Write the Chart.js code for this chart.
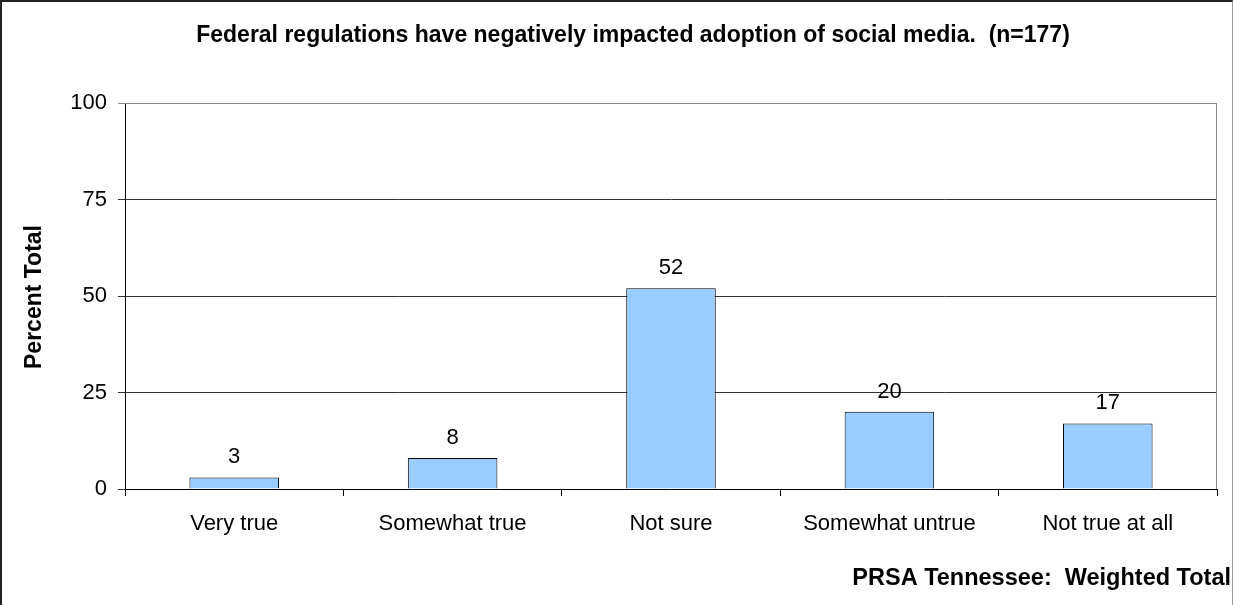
<!DOCTYPE html>
<html>
<head>
<meta charset="utf-8">
<script src="https://cdn.jsdelivr.net/npm/chart.js@4/dist/chart.umd.min.js"></script>
<style>
  html, body { margin: 0; padding: 0; background: #fff; }
  #wrap {
    position: relative; width: 1233px; height: 605px; box-sizing: border-box;
    border-left: 2px solid #222; border-top: 2px solid #222; border-right: 1px solid #999;
  }
  canvas { position: absolute; left: -2px; top: -2px; }
</style>
</head>
<body>
<div id="wrap"><canvas id="c" width="1233" height="605"></canvas></div>
<script>
const categories = ['Very true', 'Somewhat true', 'Not sure', 'Somewhat untrue', 'Not true at all'];
const percentValues = [3, 8, 52, 20, 17];
const yTicks = [0, 25, 50, 75, 100];
const titleText = 'Federal regulations have negatively impacted adoption of social media.  (n=177)';
const yAxisTitle = 'Percent Total';
const footerText = 'PRSA Tennessee:  Weighted Total';

const FONT = "'Liberation Sans', Arial, sans-serif";

const textPlugin = {
  id: 'texts',
  afterDraw(chart) {
    const ctx = chart.ctx;
    const area = chart.chartArea;
    ctx.save();
    // plot frame (top/right)
    ctx.strokeStyle = '#8c8c8c';
    ctx.lineWidth = 1;
    ctx.beginPath();
    ctx.moveTo(area.left, area.top + 0.5);
    ctx.lineTo(area.right - 0.5, area.top + 0.5);
    ctx.lineTo(area.right - 0.5, area.bottom);
    ctx.stroke();

    ctx.fillStyle = '#000';
    ctx.textAlign = 'center';
    ctx.textBaseline = 'middle';
    ctx.font = 'bold 23px ' + FONT;
    ctx.fillText(titleText, 633, 36);

    ctx.textAlign = 'right';
    ctx.font = 'bold 23.5px ' + FONT;
    ctx.fillText(footerText, 1231, 579);

    ctx.save();
    ctx.font = 'bold 23px ' + FONT;
    ctx.translate(35, 297);
    ctx.rotate(-Math.PI / 2);
    ctx.textAlign = 'center';
    ctx.fillText(yAxisTitle, 0, 0);
    ctx.restore();

    // value labels above bars
    ctx.font = '22px ' + FONT;
    ctx.textAlign = 'center';
    ctx.textBaseline = 'alphabetic';
    const meta = chart.getDatasetMeta(0);
    meta.data.forEach((bar, i) => {
      ctx.fillText(String(percentValues[i]), bar.x, bar.y - 14);
    });
    ctx.restore();
  }
};

new Chart(document.getElementById('c'), {
  type: 'bar',
  data: {
    labels: categories,
    datasets: [{
      data: percentValues,
      backgroundColor: '#99ccff',
      borderColor: '#000',
      borderWidth: 1,
      categoryPercentage: 1,
      barPercentage: 0.41
    }]
  },
  options: {
    responsive: false,
    animation: false,
    events: [],
    layout: { padding: { left: 0, top: 103, right: 16, bottom: 0 } },
    plugins: { legend: { display: false }, tooltip: { enabled: false }, title: { display: false } },
    scales: {
      x: {
        offset: true,
        grid: { offset: true, drawOnChartArea: false, tickLength: 7, color: '#000' },
        border: { color: '#000', width: 1 },
        ticks: { color: '#000', font: { family: FONT, size: 22 }, padding: 15 },
        afterFit(scale) { scale.height = 605 - 489; }
      },
      y: {
        min: 0, max: 100,
        afterBuildTicks(scale) { scale.ticks = yTicks.map(v => ({ value: v })); },
        grid: {
          tickLength: 7,
          color: ctx => (ctx.tick && ctx.tick.value === 100) ? '#8c8c8c' : '#333'
        },
        border: { color: '#000', width: 1 },
        ticks: { color: '#000', font: { family: FONT, size: 22 }, padding: 11 },
        afterFit(scale) { scale.width = 125; }
      }
    }
  },
  plugins: [textPlugin]
});
</script>
</body>
</html>
